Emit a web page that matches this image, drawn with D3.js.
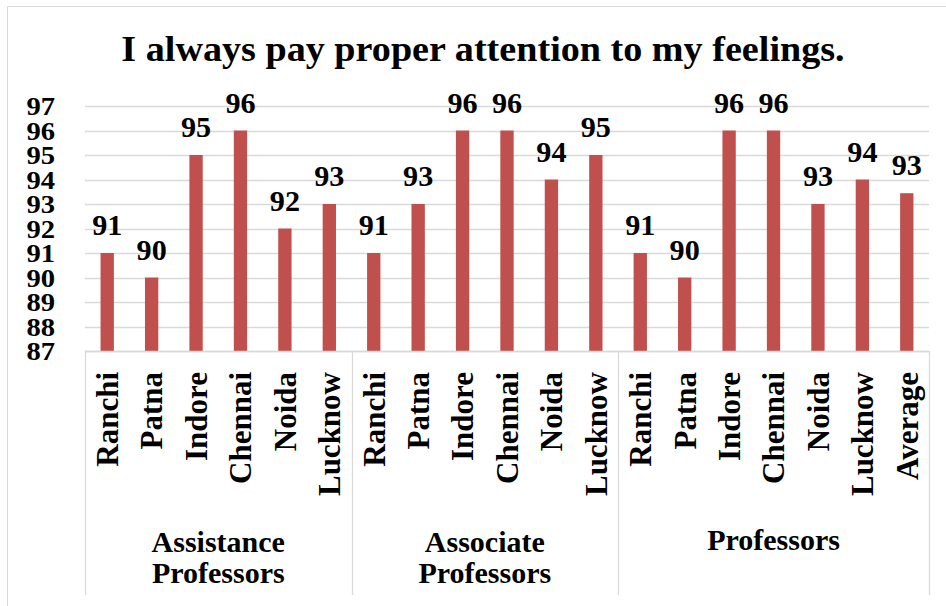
<!DOCTYPE html>
<html>
<head>
<meta charset="utf-8">
<script src="https://cdn.jsdelivr.net/npm/d3@7"></script>
<style>
  body { margin: 0; background: #fff; }
  text { font-family: "Liberation Serif", "Times New Roman", serif; font-weight: bold; fill: #000; }
</style>
</head>
<body>
<svg width="946" height="606"></svg>
<script>
const groupLabels = [["Assistance", "Professors"], ["Associate", "Professors"], ["Professors"]];
const cities = ["Ranchi", "Patna", "Indore", "Chennai", "Noida", "Lucknow"];
const assistanceValues = [91, 90, 95, 96, 92, 93];
const associateValues = [91, 93, 96, 96, 94, 95];
const professorValues = [91, 90, 96, 96, 93, 94];
const averageValue = 93.44;
const yTicks = [87, 88, 89, 90, 91, 92, 93, 94, 95, 96, 97];

// flatten into one list of bars
const bars = [];
[assistanceValues, associateValues, professorValues].forEach((vals, g) => {
  vals.forEach((v, i) => bars.push({ group: g, name: cities[i], value: v }));
});
bars.push({ group: 2, name: "Average", value: averageValue });
bars.forEach((d, i) => d.id = i);

const svg = d3.select('svg');
const plotLeft = 85, plotRight = 929, plotTop = 106, plotBottom = 351;

// outer border
svg.append('rect')
  .attr('x', 7.5).attr('y', 6.5)
  .attr('width', 945).attr('height', 605)
  .attr('fill', 'none').attr('stroke', '#d9d9d9');

const xScale = d3.scaleBand()
  .domain(bars.map(d => d.id))
  .range([plotLeft, plotRight])
  .paddingInner(0.7)
  .paddingOuter(0.35);
const yScale = d3.scaleLinear().domain([87, 97]).range([plotBottom, plotTop]);

// title
svg.append('text')
  .attr('transform', 'translate(483,61) scale(1.06,1)')
  .attr('text-anchor', 'middle')
  .style('font-size', '36px')
  .text('I always pay proper attention to my feelings.');

// gridlines
svg.append('g').selectAll('line')
  .data(yTicks)
  .enter()
  .append('line')
  .attr('x1', plotLeft).attr('x2', plotRight)
  .attr('y1', d => Math.round(yScale(d)) + 0.5)
  .attr('y2', d => Math.round(yScale(d)) + 0.5)
  .attr('stroke', '#d9d9d9')
  .attr('stroke-width', 1.3);

// y tick labels (tight, like the original)
svg.append('g').selectAll('text')
  .data(yTicks)
  .enter()
  .append('text')
  .attr('transform', d => `translate(55,${yScale(d) + 9}) scale(1.1,1)`)
  .attr('text-anchor', 'end')
  .style('font-size', '26px')
  .text(d => d);

// bars
svg.append('g').selectAll('rect')
  .data(bars)
  .enter()
  .append('rect')
  .attr('x', d => xScale(d.id))
  .attr('width', xScale.bandwidth())
  .attr('y', d => yScale(d.value))
  .attr('height', d => plotBottom - yScale(d.value))
  .attr('fill', '#c0504d');

// data labels
svg.append('g').selectAll('text')
  .data(bars)
  .enter()
  .append('text')
  .attr('transform', d => `translate(${xScale(d.id) + xScale.bandwidth() / 2},${yScale(d.value) - 18}) scale(1.04,1)`)
  .attr('text-anchor', 'middle')
  .style('font-size', '29px')
  .text(d => d3.format('.0f')(d.value));

// category axis lines
svg.append('line')
  .attr('x1', plotLeft).attr('x2', plotRight)
  .attr('y1', plotBottom + 0.5).attr('y2', plotBottom + 0.5)
  .attr('stroke', '#d9d9d9').attr('stroke-width', 1.3);

const groupEdges = [0, 6, 12, 19].map(i => plotLeft + i * xScale.step());
svg.append('g').selectAll('line')
  .data(groupEdges)
  .enter()
  .append('line')
  .attr('x1', d => Math.round(d) + 0.5).attr('x2', d => Math.round(d) + 0.5)
  .attr('y1', plotBottom).attr('y2', 595)
  .attr('stroke', '#d9d9d9').attr('stroke-width', 1.3);

// rotated city labels
svg.append('g').selectAll('text')
  .data(bars)
  .enter()
  .append('text')
  .attr('transform', d => `translate(${xScale(d.id) + xScale.bandwidth() / 2},372) rotate(-90)`)
  .attr('text-anchor', 'end')
  .attr('dy', '0.35em')
  .style('font-size', '31px')
  .text(d => d.name);

// group labels
const groupText = svg.append('g').selectAll('text')
  .data(groupLabels)
  .enter()
  .append('text')
  .attr('text-anchor', 'middle')
  .style('font-size', '30px');
groupText.selectAll('tspan')
  .data((lines, g) => lines.map(l => ({ l, g, n: lines.length })))
  .enter()
  .append('tspan')
  .attr('x', d => (groupEdges[d.g] + groupEdges[d.g + 1]) / 2)
  .attr('y', (d, i) => d.n === 1 ? 550 : 552 + i * 31)
  .text(d => d.l);
</script>
</body>
</html>
